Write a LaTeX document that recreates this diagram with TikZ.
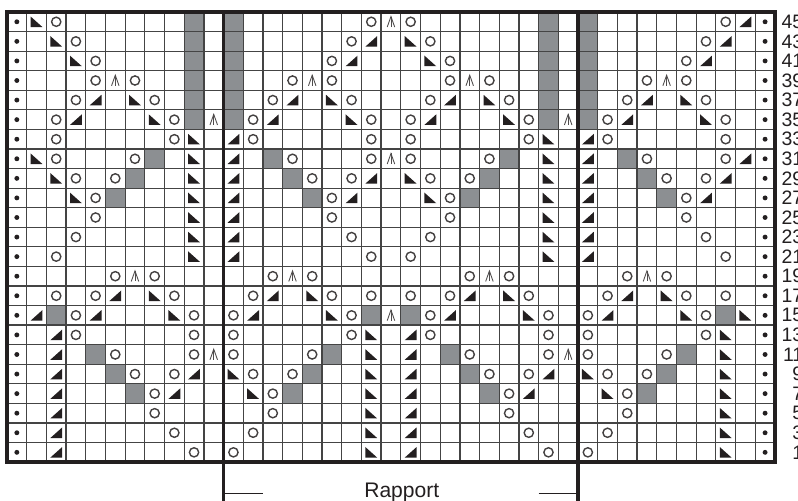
\documentclass[tikz,border=0pt]{standalone}
\usepackage{fontspec}
\setmainfont{Liberation Sans}
\usepackage{tikz}
\usetikzlibrary{calc}
\definecolor{ink}{HTML}{231F20}
\definecolor{gridc}{HTML}{444444}
\definecolor{cellgray}{HTML}{8C8F92}
\tikzset{
  gridln/.style={gridc,line width=0.95pt},
  sepln/.style={ink,line width=2.8pt},
  edgedot/.style={fill=ink},
  yarnover/.style={draw=ink!85,line width=1.05pt},
  decfill/.style={fill=ink},
  cdd/.style={ink!80,line width=0.65pt},
  rptline/.style={ink,line width=0.8pt},
  rowlbl/.style={font=\fontsize{14.6}{15}\selectfont,text=ink,anchor=east,inner sep=0pt},
  rptlbl/.style={font=\fontsize{15.8}{18}\selectfont,text=ink,anchor=base,inner sep=0pt},
}

\begin{document}
\begin{tikzpicture}[x=0.75pt,y=-0.75pt]
  \useasboundingbox (0,0) rectangle (798,500);
  \clip (0,0) rectangle (798,500);
  \fill[white] (0,0) rectangle (798,500);
  \begin{scope}[shift={(7,12)},x=14.7675pt,y=-14.6775pt]
    % shaded cells
    \foreach \r/\cs in {1/{10,12,28,30},2/{10,12,28,30},3/{10,12,28,30},4/{10,12,28,30},
        5/{10,12,28,30},6/{10,12,28,30},8/{8,14,26,32},9/{7,15,25,33},10/{6,16,24,34},
        16/{3,19,21,37},18/{5,17,23,35},19/{6,16,24,34},20/{7,15,25,33}}
      \foreach \c in \cs \fill[cellgray] (\c-1,\r-1) rectangle (\c,\r);
    % grid
    \foreach \c in {1,...,38} \draw[gridln] (\c,0) -- (\c,23);
    \foreach \r in {1,...,22} \draw[gridln] (0,\r) -- (39,\r);
    \draw[sepln] (0,0) rectangle (39,23);
    \draw[sepln] (11,0) -- (11,25.5);
    \draw[sepln] (29,0) -- (29,25.5);
    % edge stitches
    \foreach \r in {1,...,23} {
      \fill[edgedot] (0.5,\r-0.5) circle[radius=0.125];
      \fill[edgedot] (38.5,\r-0.5) circle[radius=0.125];
    }
    % yarn overs
    \foreach \r/\cs in {1/{3,19,21,37},2/{4,18,22,36},3/{5,17,23,35},4/{5,7,15,17,23,25,33,35},
        5/{4,8,14,18,22,26,32,36},6/{3,9,13,19,21,27,31,37},7/{3,9,13,19,21,27,31,37},
        8/{3,7,15,19,21,25,33,37},9/{4,6,16,18,22,24,34,36},10/{5,17,23,35},11/{5,17,23,35},
        12/{4,18,22,36},13/{3,19,21,37},14/{6,8,14,16,24,26,32,34},
        15/{3,5,9,13,17,19,21,23,27,31,35,37},16/{4,10,12,18,22,28,30,36},
        17/{4,10,12,18,22,28,30,36},18/{6,10,12,16,24,28,30,34},19/{7,9,13,15,25,27,31,33},
        20/{8,14,26,32},21/{8,14,26,32},22/{9,13,27,31},23/{10,12,28,30}}
      \foreach \c in \cs \draw[yarnover] (\c-0.5,\r-0.5) circle[radius=0.235];
    % slip slip knit
    \foreach \r/\cs in {1/{2},2/{3,21},3/{4,22},5/{7,17,25,35},6/{8,18,26,36},7/{10,28},
        8/{2,10,28},9/{3,10,21,28},10/{4,10,22,28},11/{10,28},12/{10,28},13/{10,28},
        15/{8,16,26,34},16/{9,17,27,35,38},17/{19,37},18/{19,37},19/{12,19,30,37},
        20/{13,19,31,37},21/{19,37},22/{19,37},23/{19,37}}
      \foreach \c in \cs \fill[decfill] (\c-0.8,\r-0.77) -- (\c-0.8,\r-0.23) -- (\c-0.2,\r-0.23) -- cycle;
    % knit two together
    \foreach \r/\cs in {1/{38},2/{19,37},3/{18,36},5/{5,15,23,33},6/{4,14,22,32},7/{12,30},
        8/{12,30,38},9/{12,19,30,37},10/{12,18,30,36},11/{12,30},12/{12,30},13/{12,30},
        15/{6,14,24,32},16/{2,5,13,23,31},17/{3,21},18/{3,21},19/{3,10,21,28},
        20/{3,9,21,27},21/{3,21},22/{3,21},23/{3,21}}
      \foreach \c in \cs \fill[decfill] (\c-0.2,\r-0.77) -- (\c-0.2,\r-0.23) -- (\c-0.8,\r-0.23) -- cycle;
    % central double decreases
    \foreach \r/\cs in {1/{20},4/{6,16,24,34},6/{11,29},8/{20},14/{7,15,25,33},16/{20},18/{11,29}}
      \foreach \c in \cs {
        \draw[cdd] (\c-0.69,\r-0.23) -- (\c-0.5,\r-0.77) -- (\c-0.31,\r-0.23);
        \draw[cdd] (\c-0.5,\r-0.77) -- (\c-0.5,\r-0.23);
      }
    % row numbers
    \foreach \r [evaluate=\r as \n using int(47-2*\r)] in {1,...,23}
      \node[rowlbl] (row\n) at (40.45,\r-0.5) {\n};
    % repeat bracket
    \coordinate (rptA) at (11,24.58);
    \coordinate (rptB) at (13,24.58);
    \coordinate (rptC) at (27,24.58);
    \coordinate (rptD) at (29,24.58);
    \draw[rptline] (rptA) -- (rptB);
    \draw[rptline] (rptC) -- (rptD);
    \node[rptlbl] (rapport) at (20.05,24.8) {Rapport};
  \end{scope}
\end{tikzpicture}
\end{document}
